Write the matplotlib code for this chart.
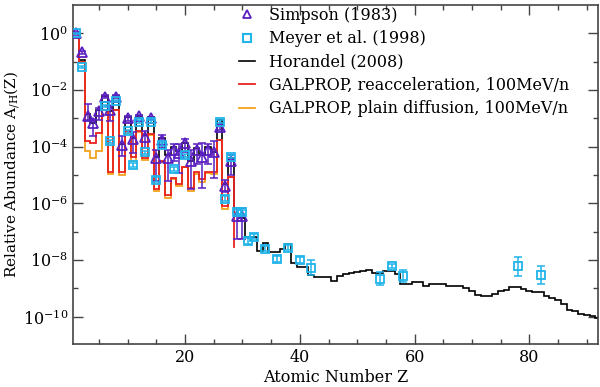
import matplotlib
matplotlib.use("Agg")
import matplotlib.pyplot as plt
from matplotlib.lines import Line2D
import numpy as np

plt.rcParams["font.family"] = "DejaVu Serif"
plt.rcParams["mathtext.fontset"] = "dejavuserif"
plt.rcParams["font.size"] = 11

# --- data: log10 of relative abundance ---
horandel_z = np.arange(1, 93)
horandel_log = [
    0.0, -0.95, -2.85, -3.15, -2.7, -2.2, -2.75, -2.2, -3.9, -2.95,
    -3.7, -2.9, -3.6, -2.95, -4.35, -3.7, -4.3, -4.0, -4.15, -3.85,
    -4.5, -4.05, -4.3, -4.0, -4.2, -3.05, -5.3, -4.4, -6.45, -6.5,
    -7.2, -7.2, -7.67, -7.4, -7.7, -7.7, -7.6, -7.44, -8.1, -8.25,
    -8.25, -8.53, -8.6, -8.6, -8.6, -8.73, -8.55, -8.5, -8.45, -8.42,
    -8.38, -8.35, -8.45, -8.45, -8.38, -8.38, -8.5, -8.85, -8.85, -8.78,
    -8.78, -8.9, -8.85, -8.83, -8.83, -8.9, -8.9, -8.9, -9.0, -9.1,
    -9.22, -9.25, -9.25, -9.2, -9.1, -9.05, -8.95, -8.95, -9.02, -9.1,
    -9.12, -9.12, -9.25, -9.32, -9.4, -9.55, -9.75, -9.78, -9.9, -9.95,
    -9.97, -10.05,
]

galprop_z = np.arange(1, 29)
reacc_log = [
    0.0, -1.0, -3.8, -3.85, -3.5, -2.7, -4.9, -2.7, -4.9, -3.45,
    -4.35, -3.45, -4.4, -3.55, -5.5, -4.5, -5.7, -5.1, -5.3, -4.7,
    -5.45, -4.9, -5.15, -4.9, -4.9, -3.75, -6.1, -5.05,
]
reacc_tail_log = -7.55
plain_log = [
    0.0, -1.0, -4.15, -4.4, -4.15, -2.72, -4.95, -2.72, -5.0, -3.5,
    -4.5, -3.47, -4.45, -3.57, -5.55, -4.55, -5.8, -5.15, -5.4, -4.72,
    -5.55, -4.95, -5.25, -4.92, -4.95, -3.77, -6.2, -5.07,
]

simpson_z = np.arange(1, 31)
simpson_log = [
    0.0, -0.66, -2.9, -3.17, -2.75, -2.23, -2.7, -2.23, -3.93, -3.0,
    -3.72, -2.92, -3.64, -3.0, -4.4, -3.75, -4.4, -4.1, -4.22, -3.87,
    -4.5, -4.1, -4.35, -4.1, -4.2, -3.3, -5.39, -4.5, -6.45, -6.45,
]
simpson_lo = [
    0.05, 0.05, 0.15, 0.45, 0.3, 0.05, 0.4, 0.05, 0.4, 0.1,
    0.5, 0.05, 0.4, 0.05, 0.8, 0.3, 0.8, 0.4, 0.7, 0.3,
    1.0, 0.5, 1.1, 0.5, 0.9, 0.1, 0.2, 0.5, 0.8, 0.8,
]
simpson_hi = [
    0.05, 0.05, 0.4, 0.15, 0.1, 0.05, 0.15, 0.05, 0.3, 0.1,
    0.25, 0.05, 0.2, 0.05, 0.3, 0.15, 0.3, 0.2, 0.3, 0.15,
    0.4, 0.2, 0.5, 0.2, 0.4, 0.05, 0.2, 0.2, 0.3, 0.3,
]

meyer_z = [1, 2, 6, 7, 8, 10, 11, 12, 13, 14, 15, 16, 18, 20, 26, 27, 28,
           29, 30, 31, 32, 34, 36, 38, 40, 42, 54, 56, 58, 78, 82]
meyer_log = [0.0, -1.18, -2.55, -3.81, -2.38, -3.45, -4.65, -3.11, -4.2,
             -3.11, -5.16, -3.93, -4.78, -4.3, -3.11, -5.83, -4.35,
             -6.3, -6.3, -7.32, -7.17, -7.59, -7.96, -7.56, -8.0, -8.26,
             -8.66, -8.22, -8.56, -8.22, -8.52]
meyer_err = [0.03, 0.03, 0.04, 0.06, 0.04, 0.05, 0.06, 0.04, 0.06,
             0.04, 0.08, 0.05, 0.08, 0.06, 0.04, 0.08, 0.05,
             0.08, 0.08, 0.1, 0.08, 0.1, 0.12, 0.08, 0.1, 0.25,
             0.23, 0.07, 0.2, 0.33, 0.33]

PURPLE = "#5a1fc0"
CYAN = "#1fb4ea"
RED = "#e8231c"
ORANGE = "#f5a21e"
AXC = "#444444"

fig = plt.figure(figsize=(6.0, 3.87), dpi=100)
ax = fig.add_axes([0.122, 0.111, 0.875, 0.876])
ax.set_yscale("log")

# step lines (one bin per element)
h = 10.0 ** np.array(horandel_log)
ax.stairs(h, np.r_[horandel_z - 0.5, horandel_z[-1] + 0.5], baseline=None,
          color="black", lw=1.2, zorder=2)
po = 10.0 ** np.array(plain_log)
ax.stairs(po, np.r_[galprop_z - 0.5, galprop_z[-1] + 0.5], baseline=None,
          color=ORANGE, lw=1.3, zorder=3)
ra = 10.0 ** np.array(reacc_log)
ax.stairs(ra, np.r_[galprop_z - 0.5, galprop_z[-1] + 0.5], baseline=None,
          color=RED, lw=1.3, zorder=4)
ax.plot([galprop_z[-1] + 0.5] * 2, [ra[-1], 10.0 ** reacc_tail_log],
        color=RED, lw=1.3, zorder=4)

# Simpson (1983)
s = 10.0 ** np.array(simpson_log)
s_err = [s - s * 10.0 ** -np.array(simpson_lo), s * 10.0 ** np.array(simpson_hi) - s]
ax.errorbar(simpson_z, s, yerr=s_err, fmt="none", ecolor=PURPLE, elinewidth=1.1,
            capsize=3, capthick=1.1, zorder=5)
ax.plot(simpson_z, s, ls="none", marker="^", ms=6.5, mfc="none", mec=PURPLE,
        mew=1.3, zorder=6)

# Meyer et al. (1998)
m = 10.0 ** np.array(meyer_log)
me = np.array(meyer_err)
m_err = [m - m * 10.0 ** -me, m * 10.0 ** me - m]
ax.errorbar(meyer_z, m, yerr=m_err, fmt="none", ecolor=CYAN, elinewidth=1.1,
            capsize=3, capthick=1.1, zorder=7)
ax.plot(meyer_z, m, ls="none", marker="s", ms=6, mfc="none", mec=CYAN,
        mew=1.3, zorder=8)

ax.set_xlim(0.5, 92)
ax.set_ylim(10 ** -10.96, 10 ** 1.0)
ax.set_xticks([20, 40, 60, 80])
ax.set_xticks(np.arange(5, 92, 5), minor=True)
ax.set_yticks([10.0 ** k for k in range(-10, 1, 2)])
ax.set_yticks([10.0 ** k for k in range(-9, 0, 2)], minor=True)
ax.set_yticklabels([r"$10^{%d}$" % k for k in range(-10, 1, 2)], minor=False)
ax.yaxis.set_minor_formatter(matplotlib.ticker.NullFormatter())
ax.tick_params(which="both", direction="in", top=True, right=True, color=AXC,
               labelsize=11.5)
ax.tick_params(which="major", length=7, width=1)
ax.tick_params(which="minor", length=3.5, width=1)
for sp in ax.spines.values():
    sp.set_color(AXC)
    sp.set_linewidth(1.2)

ax.set_xlabel("Atomic Number Z", fontsize=11.5, labelpad=2)
ax.set_ylabel(r"Relative Abundance A$_{\mathrm{/H}}$(Z)", fontsize=11, labelpad=1)

handles = [
    Line2D([], [], ls="none", marker="^", ms=6, mfc="none", mec=PURPLE, mew=1.3),
    Line2D([], [], ls="none", marker="s", ms=5.5, mfc="none", mec=CYAN, mew=1.5),
    Line2D([], [], color="black", lw=1.2),
    Line2D([], [], color=RED, lw=1.3),
    Line2D([], [], color=ORANGE, lw=1.3),
]
labels = ["Simpson (1983)", "Meyer et al. (1998)", "Horandel (2008)",
          "GALPROP, reacceleration, 100MeV/n", "GALPROP, plain diffusion, 100MeV/n"]
ax.legend(handles, labels, loc="upper left", bbox_to_anchor=(0.315, 0.995),
          frameon=False, fontsize=11.5, handlelength=1.0, handletextpad=0.9,
          labelspacing=0.4, borderpad=0.0, borderaxespad=0.0)

fig.savefig("out.png", dpi=100, facecolor="white")
